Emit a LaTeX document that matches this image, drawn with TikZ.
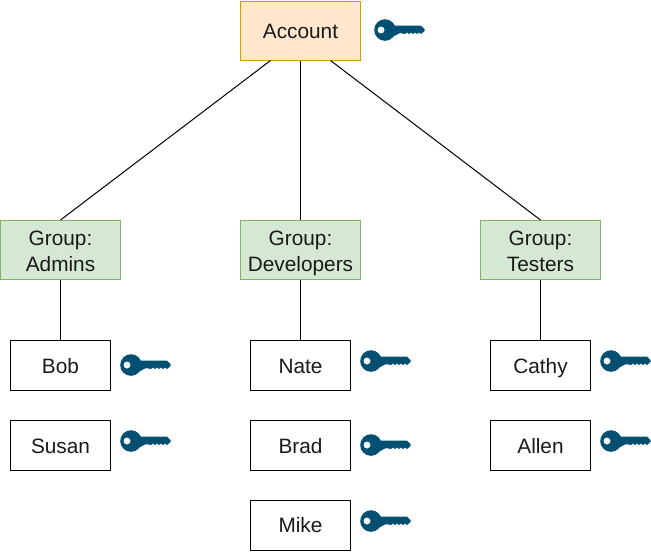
\documentclass[tikz,border=0pt]{standalone}
\usepackage{fontspec}
\setmainfont{Liberation Sans}
\usepackage{xcolor}
\definecolor{acctfill}{HTML}{FFE6CC}
\definecolor{acctline}{HTML}{D79B00}
\definecolor{grpfill}{HTML}{D5E8D4}
\definecolor{grpline}{HTML}{82B366}
\definecolor{keyblue}{HTML}{005073}
\usetikzlibrary{positioning}
\newcommand{\txtstrut}{\rule[-3.25pt]{0pt}{18pt}}
\tikzset{
  basebox/.style={rectangle,line width=0.75pt,inner sep=0pt,align=center,text=black!90},
  acctbox/.style={basebox,draw=acctline,fill=acctfill,minimum width=90pt,minimum height=44.25pt,execute at begin node=\txtstrut},
  grpbox/.style={basebox,draw=grpline,fill=grpfill,minimum width=90pt,minimum height=44.25pt,text height=32pt,text depth=0pt},
  userbox/.style={basebox,draw=black,minimum width=75pt,minimum height=37.5pt,execute at begin node=\txtstrut},
  link/.style={draw=black,line width=0.75pt},
  keyicon/.pic={
    \fill[keyblue,even odd rule] (10,0) circle (10.8) (6,0) circle (3.6);
    \fill[keyblue] (17,-4.5) -- (46,-4.5) -- (49.5,-1) -- (49.5,1) -- (46,4)
      -- (44,2.5) -- (42,4) -- (40,2.5) -- (38,4) -- (36,2.5) -- (34,4) -- (32,2.5) -- (30,4)
      -- (25,3) -- (17,7) -- cycle;
  }
}
\begin{document}
\begin{tikzpicture}[x=0.75pt,y=-0.75pt,font=\fontsize{15.6pt}{19.5pt}\selectfont]
\useasboundingbox (0,0) rectangle (651,551);
\node[acctbox] (acct) at (300.5,30.5){Account};
\node[grpbox] (admins) at (60.5,250){Group:\\Admins};
\node[grpbox] (devs) at (300.5,250){Group:\\Developers};
\node[grpbox] (testers) at (540.5,250){Group:\\Testers};
\draw[link] ([xshift=-22.5pt]acct.south) to (admins.north);
\draw[link] (acct) to (devs);
\draw[link] ([xshift=22.5pt]acct.south) to (testers.north);
\node[userbox] (bob) at (60.5,365.5){Bob};
\node[userbox] (susan) at (60.5,445.5){Susan};
\node[userbox] (nate) at (300.5,365.5){Nate};
\node[userbox] (brad) at (300.5,445.5){Brad};
\node[userbox] (mike) at (300.5,525){Mike};
\node[userbox] (cathy) at (540.5,365.5){Cathy};
\node[userbox] (allen) at (540.5,445.5){Allen};
\draw[link] (admins) to (bob);
\draw[link] (devs) to (nate);
\draw[link] (testers) to (cathy);
\foreach \kx/\ky in {375/30,121/365,121/441,361/361,361/445,361/521,601/361,601/441}
  \pic at (\kx,\ky) {keyicon};
\end{tikzpicture}
\end{document}
